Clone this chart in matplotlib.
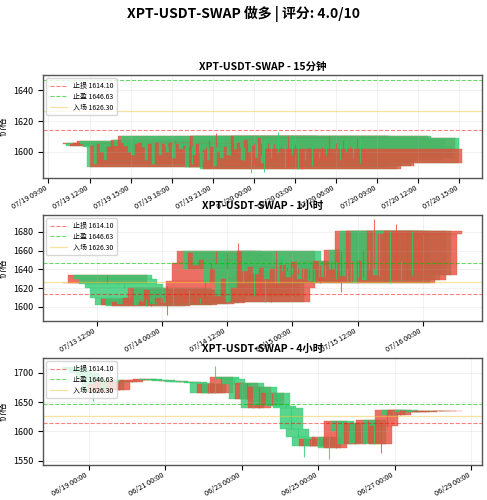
import matplotlib
matplotlib.use("Agg")
import matplotlib.pyplot as plt
import matplotlib.dates as mdates
import numpy as np
import pandas as pd

plt.rcParams["font.family"] = ["Noto Sans CJK SC", "DejaVu Sans"]
plt.rcParams["axes.unicode_minus"] = False

UP = "#e74c3c"    # red = up
DOWN = "#2ecc71"  # green = down
STOP, TAKE, ENTRY = 1614.10, 1646.63, 1626.30

# ── Data ─────────────────────────────────────────────────────────────────────
start_15m = "2025-07-19 17:15"
first_open_15m = 1605
close_15m = [1606, 1604, 1605, 1606, 1607, 1605,
             1603, 1590, 1604, 1592, 1605, 1600,
             1595, 1603, 1608, 1604, 1610, 1606,
             1604, 1600, 1598, 1605, 1606, 1603,
             1595, 1605, 1592, 1606, 1598, 1605,
             1600, 1606, 1596, 1605, 1602, 1604,
             1590, 1610, 1598, 1605, 1589, 1601,
             1595, 1603, 1591, 1600, 1596, 1603,
             1598, 1610, 1602, 1606, 1595, 1608,
             1600, 1604, 1596, 1609, 1593, 1602]
spikes_15m = [(26, 1607, 1586), (30, 1608, 1587), (34, 1613, 1600), (16, 1612, 1603)]

start_1h = "2025-07-13 13:00"
first_open_1h = 1625
close_1h = [1626, 1634, 1630, 1624, 1620, 1610,
            1602, 1608, 1601, 1605, 1603, 1610,
            1620, 1602, 1605, 1618, 1603, 1610,
            1604, 1628, 1647, 1660, 1640, 1658,
            1645, 1650, 1625, 1640, 1612, 1630,
            1605, 1620, 1660, 1638, 1643, 1635,
            1642, 1630, 1640, 1626, 1645, 1632,
            1648, 1630, 1640, 1628, 1649, 1632,
            1661, 1640, 1681, 1633, 1681, 1626,
            1649, 1629, 1681, 1634, 1678, 1681]
spikes_1h = [(12, 1622, 1591), (25, 1668, 1630), (44, 1660, 1616), (50, 1694, 1640), (54, 1688, 1630)]

start_4h = "2025-06-18 15:00"
first_open_4h = 1710
close_4h = [1705, 1700, 1690, 1668, 1680, 1688,
            1670, 1686, 1685, 1687, 1688, 1689,
            1688, 1687, 1686, 1686, 1685, 1684,
            1685, 1682, 1665, 1680, 1666, 1692,
            1690, 1680, 1655, 1683, 1640, 1675,
            1645, 1665, 1643, 1640, 1605, 1590,
            1576, 1588, 1575, 1590, 1572, 1617,
            1600, 1578, 1615, 1580, 1620, 1578,
            1610, 1637, 1628, 1636, 1633, 1634,
            1633, 1634, 1635, 1634, 1635, 1635]
spikes_4h = [(3, 1690, 1652), (22, 1712, 1665), (36, 1590, 1557), (40, 1590, 1553), (48, 1612, 1563)]

PANELS = [
    ("XPT-USDT-SWAP - 15分钟", start_15m, "15min", first_open_15m, close_15m, spikes_15m,
     mdates.HourLocator(byhour=range(0, 24, 3)), (1583, 1650), [1600, 1620, 1640]),
    ("XPT-USDT-SWAP - 1小时", start_1h, "1h", first_open_1h, close_1h, spikes_1h,
     mdates.HourLocator(byhour=[0, 12]), (1585, 1698), [1600, 1620, 1640, 1660, 1680]),
    ("XPT-USDT-SWAP - 4小时", start_4h, "4h", first_open_4h, close_4h, spikes_4h,
     mdates.DayLocator(bymonthday=range(1, 32, 2)), (1543, 1725), [1550, 1600, 1650, 1700]),
]
RECTS = [(0.088, 0.644, 0.902, 0.206), (0.088, 0.358, 0.902, 0.212), (0.088, 0.070, 0.902, 0.214)]


def draw_candles(ax, times, opens, closes, spikes, width=0.6):
    x = mdates.date2num(times)
    highs = np.maximum(opens, closes).astype(float)
    lows = np.minimum(opens, closes).astype(float)
    for i, h, l in spikes:
        highs[i], lows[i] = h, l
    for xi, o, c, h, l in zip(x, opens, closes, highs, lows):
        color = UP if c >= o else DOWN
        ax.vlines(xi, l, h, color=color, lw=0.8, alpha=0.8)
        ax.bar(xi, abs(c - o) or 0.3, bottom=min(o, c), width=width,
               color=color, alpha=0.8, edgecolor=color, lw=0.3)


fig = plt.figure(figsize=(4.87, 5.0), dpi=100)
fig.suptitle("XPT-USDT-SWAP 做多 | 评分: 4.0/10", fontsize=10, fontweight="bold", y=0.988)

for rect, (title, start, freq, o0, closes, spikes, loc, ylim, yticks) in zip(RECTS, PANELS):
    ax = fig.add_axes(rect)
    times = pd.date_range(start, periods=len(closes), freq=freq)
    closes = np.array(closes)
    opens = np.concatenate([[o0], closes[:-1]])
    draw_candles(ax, times, opens, closes, spikes)
    ax.axhline(STOP, color="red", ls="--", lw=0.8, alpha=0.5, label=f"止损 {STOP:.2f}")
    ax.axhline(TAKE, color="#00c000", ls="--", lw=0.8, alpha=0.6, label=f"止盈 {TAKE:.2f}")
    ax.axhline(ENTRY, color="#f5c542", ls="-", lw=0.9, alpha=0.5, label=f"入场 {ENTRY:.2f}")
    ax.set_title(title, fontsize=7.5, fontweight="bold", pad=4)
    ax.set_ylabel("价格", fontsize=7)
    ax.set_ylim(*ylim)
    ax.set_yticks(yticks)
    ax.xaxis.set_major_locator(loc)
    ax.xaxis.set_major_formatter(mdates.DateFormatter("%m/%d %H:%M"))
    plt.setp(ax.get_xticklabels(), rotation=30, ha="right", fontsize=5.3)
    ax.tick_params(axis="y", labelsize=6.5)
    ax.tick_params(axis="x", pad=1)
    ax.grid(True, alpha=0.25, lw=0.5)
    for s in ax.spines.values():
        s.set_color("#555555")
        s.set_linewidth(1.0)
    ax.legend(loc="upper left", fontsize=5, framealpha=0.8, handlelength=2.5,
              borderpad=0.5, labelspacing=0.4)

fig.savefig("out.png", dpi=100)
